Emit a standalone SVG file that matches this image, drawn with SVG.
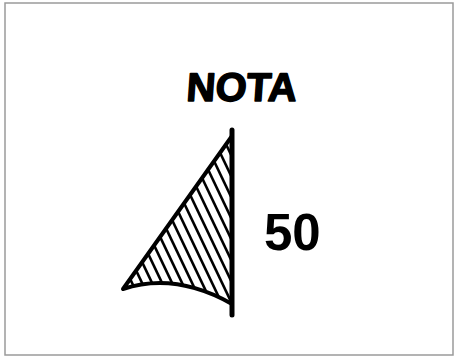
<svg xmlns="http://www.w3.org/2000/svg" width="455" height="358" viewBox="0 0 455 358">
<style>
.frame{fill:#fff;stroke:#9a9a9a;stroke-width:1.5}
.ink{fill:none;stroke:#000;stroke-linecap:round;stroke-linejoin:round}
.hatch{stroke:#000;stroke-width:2.6}
.lbl{font-family:"Liberation Sans",Arial,sans-serif;font-weight:bold;fill:#000}
</style>
<defs>
<clipPath id="tri"><path d="M232,136 L123,289 Q175,272 232,304 Z"/></clipPath>
</defs>
<rect class="frame" x="5" y="3" width="448" height="352"/>
<g id="nota"><text class="lbl" x="241" y="101" font-size="40" text-anchor="middle" stroke="#000" stroke-width="1.5" stroke-linejoin="round" transform="skewX(-4) translate(7,0)">NOTA</text></g>
<g id="sail">
<g clip-path="url(#tri)">
<g class="hatch">
<line x1="54" y1="140" x2="154" y2="350"/>
<line x1="64" y1="140" x2="164" y2="350"/>
<line x1="74" y1="140" x2="174" y2="350"/>
<line x1="84" y1="140" x2="184" y2="350"/>
<line x1="94" y1="140" x2="194" y2="350"/>
<line x1="104" y1="140" x2="204" y2="350"/>
<line x1="114" y1="140" x2="214" y2="350"/>
<line x1="124" y1="140" x2="224" y2="350"/>
<line x1="134" y1="140" x2="234" y2="350"/>
<line x1="144" y1="140" x2="244" y2="350"/>
<line x1="154" y1="140" x2="254" y2="350"/>
<line x1="164" y1="140" x2="264" y2="350"/>
<line x1="174" y1="140" x2="274" y2="350"/>
<line x1="184" y1="140" x2="284" y2="350"/>
<line x1="194" y1="140" x2="294" y2="350"/>
<line x1="204" y1="140" x2="304" y2="350"/>
<line x1="214" y1="140" x2="314" y2="350"/>
<line x1="224" y1="140" x2="324" y2="350"/>
</g>
</g>
<path class="ink" stroke-width="4" d="M232,136 L123,289 Q175,272 232,304"/>
<line class="ink" stroke-width="5" stroke-linecap="butt" x1="232" y1="130" x2="232" y2="315"/>
</g>
<g id="num"><text class="lbl" x="264" y="250" font-size="51">50</text></g>
</svg>
